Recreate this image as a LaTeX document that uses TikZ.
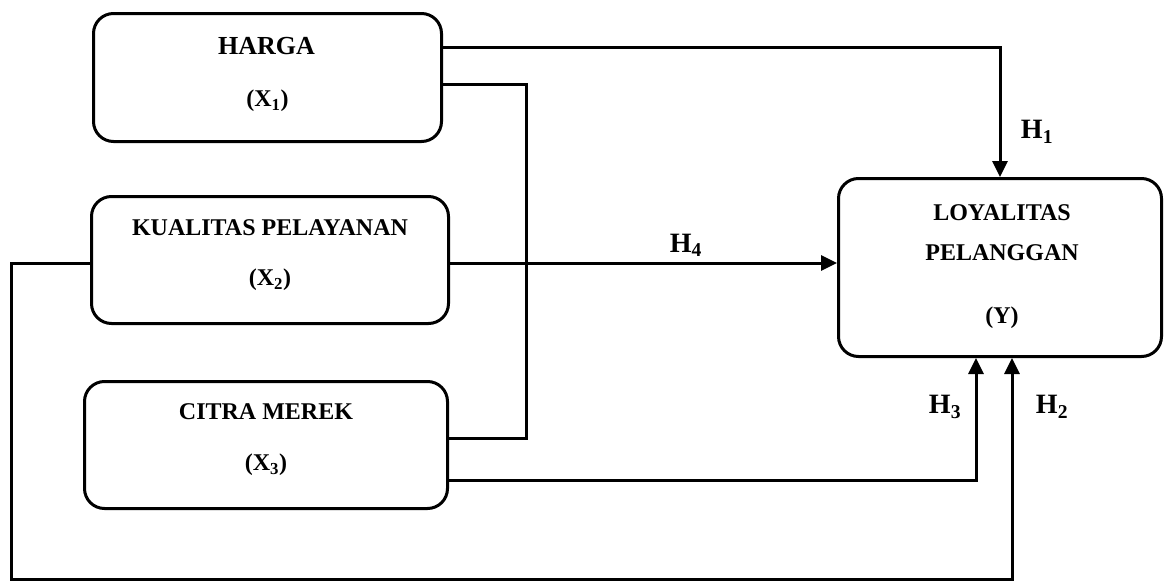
\documentclass[tikz,border=0pt]{standalone}
\usepackage{fontspec}
\setmainfont{Liberation Serif}
\usetikzlibrary{arrows.meta}
\begin{document}
\begin{tikzpicture}[x=1pt,y=-1pt,
    box/.style={draw, line width=3pt, rounded corners=20pt, inner sep=0pt},
    line/.style={line width=3pt},
    arr/.style={line width=3pt, -{Triangle[length=16pt,width=15pt]}},
    lbl/.style={font=\fontsize{24}{28}\selectfont\bfseries, inner sep=0pt},
    hyp/.style={font=\fontsize{28}{32}\selectfont\bfseries, inner sep=0pt}]
    \useasboundingbox (0,0) rectangle (1165,581);
    % kotak variabel
    \node[box, minimum width=348pt, minimum height=128pt] (x1) at (267.5,77.5) {};
    \node[box, minimum width=357pt, minimum height=127pt] (x2) at (270,260) {};
    \node[box, minimum width=363pt, minimum height=127pt] (x3) at (266,445) {};
    \node[box, minimum width=323pt, minimum height=178pt] (y) at (1000,267.5) {};
    \node[lbl, font=\fontsize{26}{30}\selectfont\bfseries] (x1a) at (266.5,46) {HARGA};
    \node[lbl] (x1b) at (267.5,101) {(X\textsubscript{1})};
    \node[lbl] (x2a) at (270,228) {KUALITAS PELAYANAN};
    \node[lbl] (x2b) at (270,280) {(X\textsubscript{2})};
    \node[lbl] (x3a) at (266,412) {CITRA MEREK};
    \node[lbl] (x3b) at (266,465) {(X\textsubscript{3})};
    \node[lbl] (ya) at (1002,213) {LOYALITAS};
    \node[lbl] (yb) at (1002,253) {PELANGGAN};
    \node[lbl] (yc) at (1002,318) {(Y)};
    % garis hubung
    \coordinate (loop) at (526,438);
    \coordinate (kiri) at (11,263);
    \coordinate (bawah) at (1012,579);
    \draw[arr] (x1.east |- 0,47) -| (y.north);
    \draw[line] (x1.east |- 0,84) -| (loop) -- (x3.east |- loop);
    \draw[arr] (x2.east |- kiri) -- (y.west |- kiri);
    \draw[arr] (x3.east |- 0,480) -| ([xshift=-24pt]y.south);
    \draw[arr] (x2.west |- kiri) -- (kiri) |- (bawah) -- (bawah |- y.south);
    % hipotesis
    \node[hyp] (h1) at (1037,132) {H\textsubscript{1}};
    \node[hyp] (h2) at (1052,407) {H\textsubscript{2}};
    \node[hyp] (h3) at (945,407) {H\textsubscript{3}};
    \node[hyp] (h4) at (686,245) {H\textsubscript{4}};
\end{tikzpicture}
\end{document}
